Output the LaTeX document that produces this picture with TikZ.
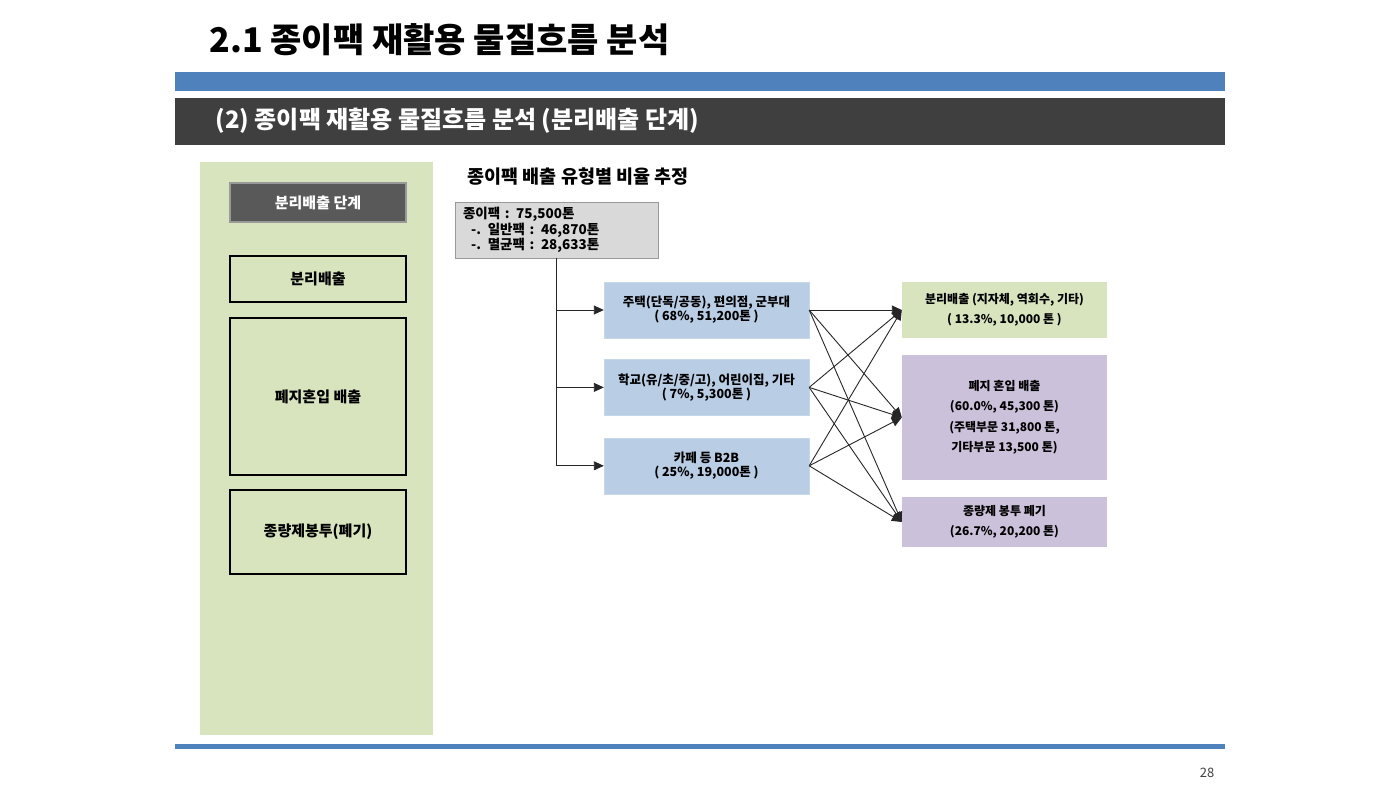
\documentclass[tikz,border=0pt]{standalone}
\usepackage{fontspec}
\setmainfont{Noto Sans CJK KR}
\usepackage{xcolor}
\usepackage{tikz}
\usetikzlibrary{arrows.meta, positioning}

\definecolor{barblue}{HTML}{4F81BD}
\definecolor{bardark}{HTML}{3F3F3F}
\definecolor{panelgreen}{HTML}{D7E4BD}
\definecolor{headgray}{HTML}{595959}
\definecolor{totalgray}{HTML}{D9D9D9}
\definecolor{srcblue}{HTML}{B9CDE5}
\definecolor{sinkpurple}{HTML}{CCC1DA}

\begin{document}
\begin{tikzpicture}[
    x=1pt, y=-1pt,
    % === STYLES ===
    stage/.style={
        rectangle,
        draw=black,
        line width=1.8pt,
        minimum width=176pt,
        minimum height=#1,
        font=\fontsize{15}{18}\selectfont\bfseries,
        align=center
    },
    stagehead/.style={
        rectangle,
        draw=gray!80,
        line width=1.5pt,
        fill=headgray,
        text=white,
        minimum width=176pt,
        minimum height=39pt,
        font=\fontsize{15}{18}\selectfont\bfseries
    },
    total/.style={
        rectangle,
        draw=gray!80,
        line width=0.8pt,
        fill=totalgray,
        text width=187pt,
        inner xsep=8pt,
        minimum height=56pt,
        align=left,
        font=\fontsize{13.5}{15.5}\selectfont\bfseries
    },
    source/.style={
        rectangle,
        draw=srcblue!80!white,
        fill=srcblue,
        minimum width=205pt,
        minimum height=56pt,
        align=center,
        font=\fontsize{12.5}{14}\selectfont\bfseries
    },
    sink/.style={
        rectangle,
        fill=#1,
        minimum width=205pt,
        align=center,
        font=\fontsize{12}{20.5}\selectfont\bfseries
    },
    sink/.default=sinkpurple,
    arrow/.style={
        -{Triangle[length=10pt,width=9pt]},
        line width=0.9pt,
        color=black!85
    }
]
\useasboundingbox (0,0) rectangle (1400,788);

% === HEADER ===
\node[anchor=west, font=\fontsize{34}{38}\selectfont\bfseries] (title) at (206,40) {2.1 종이팩 재활용 물질흐름 분석};
\fill[barblue] (175,72) rectangle (1225,91);
\fill[bardark] (175,98) rectangle (1225,145);
\node[anchor=west, text=white, font=\fontsize{24}{27}\selectfont\bfseries] (subtitle) at (212,121) {(2) 종이팩 재활용 물질흐름 분석 (분리배출 단계)};

% === LEFT PANEL: STAGES ===
\fill[panelgreen] (200,162) rectangle (433,735);
\node[stagehead] (stagetitle) at (318,202.5) {분리배출 단계};
\node[stage=46pt] (sepstage) at (318,279) {분리배출};
\node[stage=157pt] (mixstage) at (318,396.5) {폐지혼입 배출};
\node[stage=84pt] (bagstage) at (318,532) {종량제봉투(폐기)};

% === FLOW: TOTAL ===
\node[anchor=west, font=\fontsize{18.5}{21}\selectfont\bfseries] (heading) at (464,177) {종이팩 배출 유형별 비율 추정};
\node[total] (total) at (556.5,230) {종이팩 : 75,500톤\\\hspace*{0.6em}-. 일반팩 : 46,870톤\\\hspace*{0.6em}-. 멸균팩 : 28,633톤};

% === FLOW: SOURCES ===
\node[source] (home) at (706.5,310) {주택(단독/공동), 편의점, 군부대\\( 68\%, 51,200톤 )};
\node[source, below=21pt of home] (school) {학교(유/초/중/고), 어린이집, 기타\\( 7\%, 5,300톤 )};
\node[source, below=22pt of school] (cafe) {카페 등 B2B\\( 25\%, 19,000톤 )};

% === FLOW: DESTINATIONS ===
\node[sink=panelgreen, minimum height=56pt] (sepout) at (1004.5,310) {분리배출 (지자체, 역회수, 기타)\\( 13.3\%, 10,000 톤 )};
\node[sink, minimum height=125pt] (mixout) at (1004.5,417.5) {폐지 혼입 배출\\(60.0\%, 45,300 톤)\\(주택부문 31,800 톤,\\기타부문 13,500 톤)};
\node[sink, minimum height=50pt] (bagout) at (1004.5,522) {종량제 봉투 폐기\\(26.7\%, 20,200 톤)};

% === CONNECTIONS ===
\draw[arrow] (total.south) |- (home.west);
\draw[arrow] (total.south) |- (school.west);
\draw[arrow] (total.south) |- (cafe.west);

\foreach \src in {home, school, cafe}
    \foreach \dst in {sepout, mixout, bagout}
        \draw[arrow] (\src.east) -- (\dst.west);

% === FOOTER ===
\fill[barblue] (175,744) rectangle (1225,749);
\node[font=\fontsize{13}{15}\selectfont, text=black!75] (pagenum) at (1207,773) {28};

\end{tikzpicture}
\end{document}
